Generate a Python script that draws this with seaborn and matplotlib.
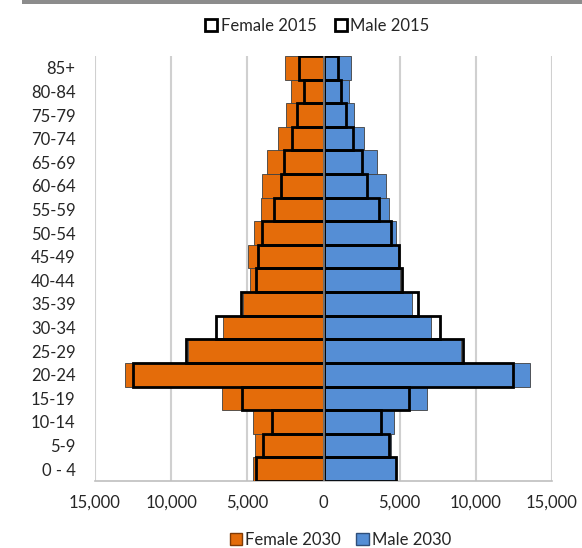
import numpy as np
import pandas as pd
import matplotlib.pyplot as plt
import seaborn as sns
from matplotlib.patches import Patch, Rectangle
from matplotlib.ticker import FuncFormatter

# age groups, top to bottom
ages = ['85+', '80-84', '75-79', '70-74', '65-69', '60-64', '55-59', '50-54', '45-49',
        '40-44', '35-39', '30-34', '25-29', '20-24', '15-19', '10-14', '5-9', '0 - 4']

female_2030 = [2520, 2150, 2430, 3000, 3700, 4010, 4120, 4560, 4930,
               4840, 5280, 6570, 8890, 13030, 6680, 4620, 4490, 4620]
female_2015 = [1640, 1270, 1710, 2040, 2580, 2760, 3240, 4010, 4290,
               4400, 5430, 7070, 9040, 12480, 5320, 3350, 3940, 4440]
male_2030 = [1800, 1650, 2020, 2660, 3520, 4070, 4330, 4730, 4880,
             5020, 5790, 7080, 9020, 13530, 6820, 4620, 4440, 4770]
male_2015 = [920, 1140, 1500, 1910, 2530, 2860, 3630, 4440, 4950,
             5170, 6200, 7630, 9170, 12470, 5610, 3780, 4290, 4730]

orange = '#E46C0A'
blue = '#558ED5'

sns.set_style('white')
plt.rcParams['font.family'] = ['Lato', 'DejaVu Sans']

fig = plt.figure(figsize=(5.82, 5.48), dpi=100)
ax = fig.add_axes([0.1632, 0.1223, 0.7853, 0.7755])

df = pd.DataFrame({'age': ages,
                   'f30': -np.array(female_2030), 'f15': -np.array(female_2015),
                   'm30': male_2030, 'm15': male_2015})

for col, c in [('f30', orange), ('m30', blue)]:
    sns.barplot(data=df, x=col, y='age', order=ages, orient='h', color=c,
                width=1.0, edgecolor='#404040', linewidth=0.6, saturation=1,
                ax=ax, zorder=3)
for col in ['f15', 'm15']:
    sns.barplot(data=df, x=col, y='age', order=ages, orient='h', color='black',
                width=1.0, fill=False, linewidth=2.0, ax=ax, zorder=4)

ax.set_xlim(-15000, 15000)
ax.set_ylim(17.5, -0.5)
ax.set_xticks(np.arange(-15000, 15001, 5000))
ax.xaxis.set_major_formatter(FuncFormatter(lambda v, p: f'{abs(int(v)):,}'))
ax.grid(axis='x', color='#D0D0D0', linewidth=1.5, zorder=0)
ax.grid(axis='y', visible=False)
ax.axvline(0, color='#6E6E6E', linewidth=1.5, zorder=5)

for s in ['top', 'left', 'right']:
    ax.spines[s].set_visible(False)
ax.spines['bottom'].set_color('#BFBFBF')
ax.spines['bottom'].set_linewidth(1.2)
ax.tick_params(axis='x', length=5, width=1.2, color='#BFBFBF', pad=5,
               labelsize=12, labelcolor='#262626')
ax.tick_params(axis='y', length=0, pad=14, labelsize=12, labelcolor='#262626')
ax.set_xlabel('')
ax.set_ylabel('')

top_handles = [Patch(facecolor='white', edgecolor='black', linewidth=2.0, label='Female 2015'),
               Patch(facecolor='white', edgecolor='black', linewidth=2.0, label='Male 2015')]
fig.legend(handles=top_handles, loc='center', bbox_to_anchor=(0.545, 0.953), ncol=2,
           frameon=False, fontsize=12, handlelength=0.75, handleheight=0.75,
           handletextpad=0.2, columnspacing=1.1)

bot_handles = [Patch(facecolor=orange, edgecolor='#7F3A05', label='Female 2030'),
               Patch(facecolor=blue, edgecolor='#2F4F7A', label='Male 2030')]
fig.legend(handles=bot_handles, loc='center', bbox_to_anchor=(0.585, 0.015), ncol=2,
           frameon=False, fontsize=12, handlelength=0.75, handleheight=0.75,
           handletextpad=0.2, columnspacing=0.9)

# gray strip along the top edge of the screenshot
fig.add_artist(Rectangle((0.037, 0.992), 0.963, 0.008, transform=fig.transFigure,
                         facecolor='#8C8C8C', edgecolor='none'))

fig.savefig('out.png', dpi=100)
